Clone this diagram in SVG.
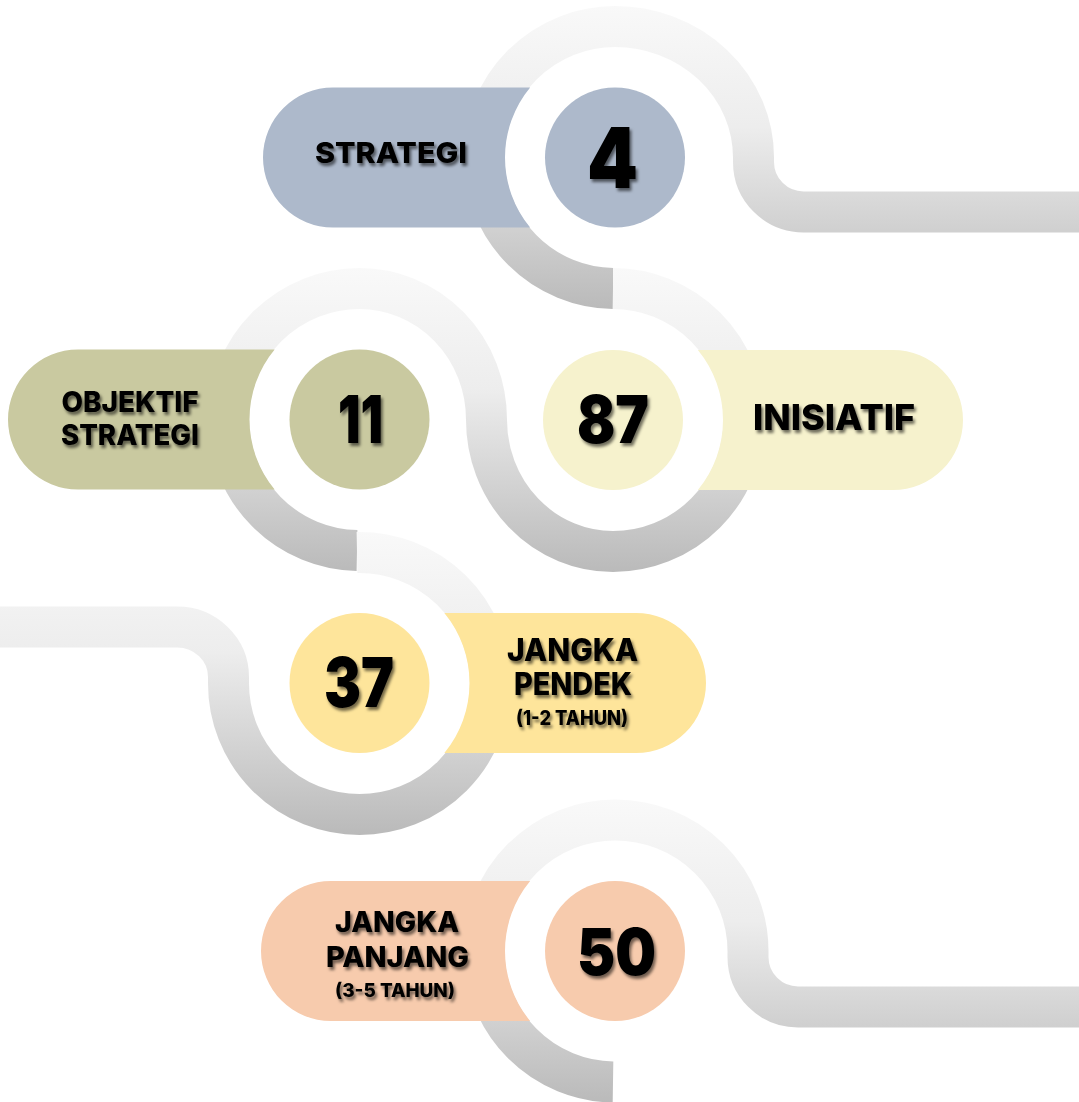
<svg xmlns="http://www.w3.org/2000/svg" xmlns:xlink="http://www.w3.org/1999/xlink" width="1079" height="1102" viewBox="0 0 1079 1102">
  <style>
    .track { fill: none; stroke-width: 41; stroke-linecap: butt; stroke-linejoin: round; }
    .lbl { font-family: Inter, "Liberation Sans", "DejaVu Sans", sans-serif; font-weight: 800; fill: #000; text-anchor: middle; filter: url(#sh); }
    .num { font-family: Inter, "Liberation Sans", "DejaVu Sans", sans-serif; font-weight: 900; fill: #000; text-anchor: middle; filter: url(#sh); }
  </style>
  <defs>
    <linearGradient id="gBase">
      <stop offset="0" stop-color="#f9f9f9"/>
      <stop offset="0.4" stop-color="#ededed"/>
      <stop offset="1" stop-color="#bababa"/>
    </linearGradient>
    <linearGradient id="gA" href="#gBase" gradientUnits="userSpaceOnUse" x1="0" y1="5" x2="0" y2="309"/>
    <linearGradient id="gB" href="#gBase" gradientUnits="userSpaceOnUse" x1="0" y1="268" x2="0" y2="572"/>
    <linearGradient id="gC" href="#gBase" gradientUnits="userSpaceOnUse" x1="0" y1="532" x2="0" y2="834"/>
    <linearGradient id="gD" href="#gBase" gradientUnits="userSpaceOnUse" x1="0" y1="800" x2="0" y2="1102"/>
    <filter id="sh" x="-10%" y="-20%" width="130%" height="150%">
      <feDropShadow dx="2" dy="3" stdDeviation="1.6" flood-color="#000" flood-opacity="0.55"/>
    </filter>
  </defs>
  <rect width="1079" height="1102" fill="#ffffff"/>

  <g id="connectors">
    <path class="track" stroke="url(#gA)" d="M 613 288.5 A 131 131 0 0 1 484 157.5 A 131 131 0 0 1 615 26.5 A 138.5 131 0 0 1 753.5 157.5 L 753.5 162 A 50 50 0 0 0 803.5 212 L 1085 212"/>
    <path class="track" stroke="url(#gB)" d="M 357 550.5 A 131 131 0 0 1 228.5 419.5 A 131 131 0 0 1 359.5 288.5 A 127 131 0 0 1 486.5 419.5 A 126.5 131.5 0 0 0 613 551.5 A 131 131.5 0 0 0 744 420 A 131 131.5 0 0 0 613 288.5"/>
    <path class="track" stroke="url(#gC)" d="M 357 552.5 A 131 131 0 0 1 490.5 683.5 A 131 131 0 0 1 359.5 814.5 A 131 131 0 0 1 228.5 683.5 L 228.5 677 A 51.5 50 0 0 0 177 627 L -5 627"/>
    <path class="track" stroke="url(#gD)" d="M 613 1082 A 131 131 0 0 1 484 951 A 131 131 0 0 1 615 820 A 133 131 0 0 1 748 951 L 748 957 A 50 50 0 0 0 798 1007 L 1085 1007"/>
  </g>

  <g id="node-strategi">
    <path fill="#adb9cb" d="M 333 87.5 H 530.15 A 110 110 0 0 0 530.15 227.5 H 333 A 70 70 0 0 1 333 87.5 Z"/>
    <circle cx="615" cy="157.5" r="70" fill="#adb9cb"/>
    <text class="lbl" x="391" y="163" font-size="29" textLength="152" lengthAdjust="spacingAndGlyphs">STRATEGI</text>
    <text class="num" x="612.5" y="188" font-size="84" textLength="51" lengthAdjust="spacingAndGlyphs">4</text>
  </g>

  <g id="node-objektif">
    <path fill="#c9c9a0" d="M 78 349.5 H 274.65 A 110 110 0 0 0 274.65 489.5 H 78 A 70 70 0 0 1 78 349.5 Z"/>
    <circle cx="359.5" cy="419.5" r="70" fill="#c9c9a0"/>
    <text class="lbl" x="130" y="411.5" font-size="29" textLength="137" lengthAdjust="spacingAndGlyphs">OBJEKTIF</text>
    <text class="lbl" x="130" y="445" font-size="28" textLength="138" lengthAdjust="spacingAndGlyphs">STRATEGI</text>
    <text class="num" x="360.5" y="443" font-size="66" textLength="45" lengthAdjust="spacingAndGlyphs">11</text>
  </g>

  <g id="node-inisiatif">
    <path fill="#f6f2cd" d="M 697.85 350 H 893 A 70 70 0 0 1 893 490 H 697.85 A 110 110 0 0 0 697.85 350 Z"/>
    <circle cx="613" cy="420" r="70" fill="#f6f2cd"/>
    <text class="num" x="613" y="443" font-size="66" textLength="72" lengthAdjust="spacingAndGlyphs">87</text>
    <text class="lbl" x="834" y="430" font-size="36" textLength="162" lengthAdjust="spacingAndGlyphs">INISIATIF</text>
  </g>

  <g id="node-pendek">
    <path fill="#fee59b" d="M 444.35 613 H 636 A 70 70 0 0 1 636 753 H 444.35 A 110 110 0 0 0 444.35 613 Z"/>
    <circle cx="359.5" cy="683" r="70" fill="#fee59b"/>
    <text class="num" x="359" y="707" font-size="69" textLength="70" lengthAdjust="spacingAndGlyphs">37</text>
    <text class="lbl" x="572.5" y="661" font-size="31" textLength="131" lengthAdjust="spacingAndGlyphs">JANGKA</text>
    <text class="lbl" x="573" y="695" font-size="31" textLength="118" lengthAdjust="spacingAndGlyphs">PENDEK</text>
    <text class="lbl" x="572" y="725" font-size="20" textLength="112" lengthAdjust="spacingAndGlyphs">(1-2 TAHUN)</text>
  </g>

  <g id="node-panjang">
    <path fill="#f7cbad" d="M 331 881 H 530.15 A 110 110 0 0 0 530.15 1021 H 331 A 70 70 0 0 1 331 881 Z"/>
    <circle cx="615" cy="951" r="70" fill="#f7cbad"/>
    <text class="num" x="616.5" y="975" font-size="65" textLength="79" lengthAdjust="spacingAndGlyphs">50</text>
    <text class="lbl" x="397" y="932" font-size="28" textLength="124" lengthAdjust="spacingAndGlyphs">JANGKA</text>
    <text class="lbl" x="397.5" y="967" font-size="28" textLength="143" lengthAdjust="spacingAndGlyphs">PANJANG</text>
    <text class="lbl" x="395" y="997" font-size="19" textLength="120" lengthAdjust="spacingAndGlyphs">(3-5 TAHUN)</text>
  </g>
</svg>
